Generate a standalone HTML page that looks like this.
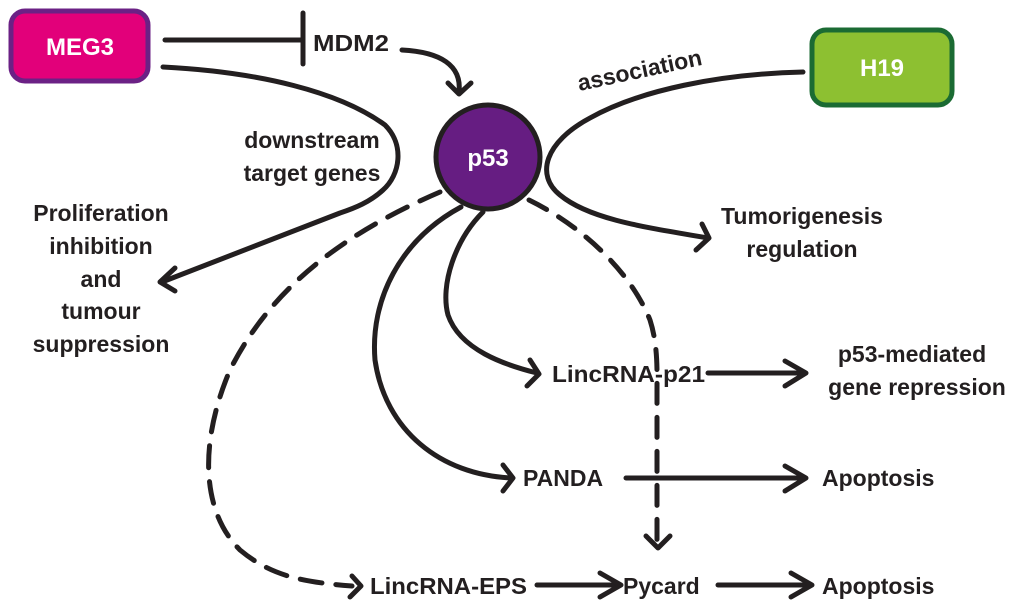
<!DOCTYPE html>
<html><head><style>
html,body{margin:0;padding:0;background:#fff;}
svg{display:block;}
text{font-family:"Liberation Sans",sans-serif;font-weight:bold;fill:#231f20;}
</style></head><body>
<svg width="1024" height="613" viewBox="0 0 1024 613">
<g fill="none" stroke="#231f20" stroke-width="5" stroke-linecap="round" stroke-linejoin="round">
<path d="M165 40 L303 40"/>
<path d="M303 13 L303 64"/>
<path d="M402 50 C440 52 462 65 459 92"/>
<path d="M448 83 L459 94 L471 83"/>
<path d="M163 67 C260 72 340 92 385 125 C405 145 400 175 383 190 C370 202 355 208 340 213 L162 282"/>
<path d="M175 268 L160 282 L175 291"/>
<path d="M803 72 C720 74 640 90 590 118 C545 142 535 175 560 195 C590 220 650 228 708 238"/>
<path d="M702 224 L709 238 L696 250"/>
<path d="M440 192 C340 235 270 290 230 370 C200 440 200 510 240 550 C270 575 300 582 352 586" stroke-dasharray="22 14"/>
<path d="M352 576 L361 586 L350 597"/>
<path d="M529 200 C580 225 630 270 650 320 C658 345 657 370 657 390 L657 543" stroke-dasharray="20 14"/>
<path d="M646 536 L658 548 L670 536"/>
<path d="M483 212 C455 240 440 285 448 315 C460 350 505 365 537 373"/>
<path d="M530 360 L539 374 L527 386"/>
<path d="M461 207 C400 240 370 300 375 360 C385 430 440 475 512 478"/>
<path d="M503 465 L513 478 L503 491"/>
<path d="M708 373 L803 373"/>
<path d="M785 361 L806 373 L785 386"/>
<path d="M626 478 L803 478"/>
<path d="M785 466 L806 478 L785 491"/>
<path d="M537 585 L617 585"/>
<path d="M600 573 L621 585 L600 597"/>
<path d="M718 585 L808 585"/>
<path d="M791 573 L812 585 L791 597"/>
</g>
<rect x="11" y="11" width="137" height="70" rx="14" fill="#e2007a" stroke="#6b2185" stroke-width="5"/>
<text x="80" y="55" font-size="24" text-anchor="middle" style="fill:#fff">MEG3</text>
<rect x="812" y="30" width="140" height="75" rx="14" fill="#8dc031" stroke="#1b6b33" stroke-width="5"/>
<text x="882" y="76" font-size="24" text-anchor="middle" style="fill:#fff">H19</text>
<circle cx="488" cy="157" r="52" fill="#661d82" stroke="#231f20" stroke-width="5"/>
<text x="488" y="166" font-size="24" text-anchor="middle" style="fill:#fff">p53</text>
<g font-size="23">
<text x="313" y="51" textLength="76" lengthAdjust="spacingAndGlyphs">MDM2</text>
<text x="640" y="78" text-anchor="middle" transform="rotate(-12 640 72)">association</text>
<text x="312" y="148" text-anchor="middle">downstream</text>
<text x="312" y="181" text-anchor="middle">target genes</text>
<text x="101" y="221" text-anchor="middle">Proliferation</text>
<text x="101" y="254" text-anchor="middle">inhibition</text>
<text x="101" y="287" text-anchor="middle">and</text>
<text x="101" y="319" text-anchor="middle">tumour</text>
<text x="101" y="352" text-anchor="middle">suppression</text>
<text x="802" y="224" text-anchor="middle">Tumorigenesis</text>
<text x="802" y="257" text-anchor="middle">regulation</text>
<text x="552" y="382" textLength="153" lengthAdjust="spacingAndGlyphs">LincRNA-p21</text>
<text x="912" y="362" text-anchor="middle">p53-mediated</text>
<text x="917" y="395" text-anchor="middle">gene repression</text>
<text x="523" y="486">PANDA</text>
<text x="822" y="486">Apoptosis</text>
<text x="370" y="594" textLength="157" lengthAdjust="spacingAndGlyphs">LincRNA-EPS</text>
<text x="623" y="594">Pycard</text>
<text x="822" y="594">Apoptosis</text>
</g>
</svg>
</body></html>
